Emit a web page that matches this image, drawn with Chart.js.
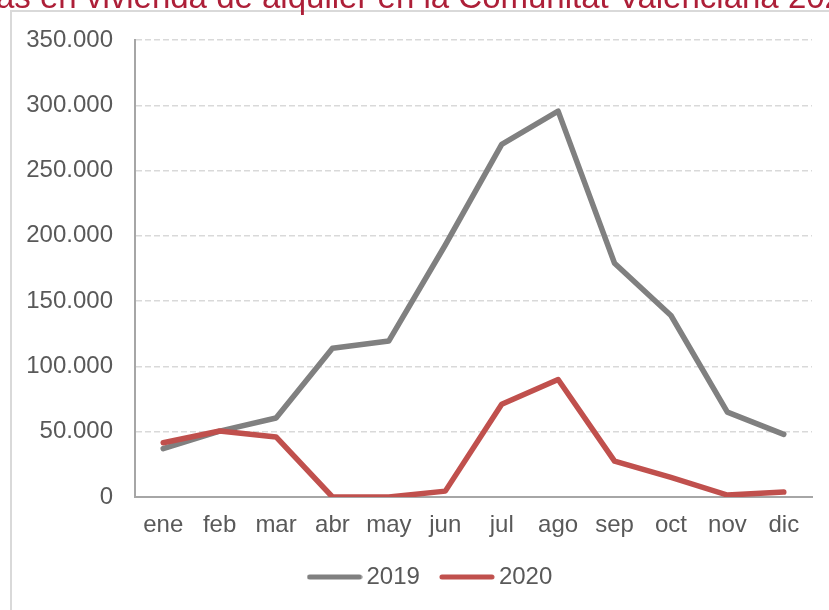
<!DOCTYPE html>
<html>
<head>
<meta charset="utf-8">
<script src="https://cdn.jsdelivr.net/npm/chart.js@4.4.1/dist/chart.umd.min.js"></script>
<style>
  html, body { margin: 0; padding: 0; background: #ffffff; }
  #wrap { width: 829px; height: 610px; position: relative; }
</style>
</head>
<body>
<div id="wrap"><canvas id="c" width="829" height="610"></canvas></div>
<script>
const months = ['ene', 'feb', 'mar', 'abr', 'may', 'jun', 'jul', 'ago', 'sep', 'oct', 'nov', 'dic'];
const seriesNames = ['2019', '2020'];
const values2019 = [37000, 50500, 60500, 114000, 119500, 193000, 270000, 295500, 179000, 139000, 65000, 48000];
const values2020 = [41500, 50500, 46000, 0, 0, 4500, 71000, 90000, 27500, 15000, 1500, 3800];
const yTicks = [0, 50000, 100000, 150000, 200000, 250000, 300000, 350000];
const titleText = 'as en vivienda de alquiler en la Comunitat Valenciana 2020';

const colors = ['#808080', '#C0504D'];
const FONT = '"Liberation Sans", Arial, sans-serif';

function fmt(v) {
  return String(v).replace(/\B(?=(\d{3})+(?!\d))/g, '.');
}

function legendSwatch(color) {
  const c = document.createElement('canvas');
  c.width = 56; c.height = 8;
  const g = c.getContext('2d');
  g.strokeStyle = color;
  g.lineWidth = 5;
  g.lineCap = 'round';
  g.beginPath();
  g.moveTo(3, 4);
  g.lineTo(53, 4);
  g.stroke();
  return c;
}
const swatches = colors.map(legendSwatch);

const frame = {
  id: 'frame',
  afterLayout(chart) {
    if (chart.legend) {
      chart.legend.left += 22.4;
      chart.legend.right += 22.4;
    }
  },
  beforeDraw(chart) {
    const ctx = chart.ctx;
    ctx.save();
    ctx.fillStyle = '#ffffff';
    ctx.fillRect(0, 0, chart.width, chart.height);
    ctx.fillStyle = '#D9D9D9';
    ctx.fillRect(10, 10, chart.width - 10, 2);
    ctx.fillRect(10, 10, 2, chart.height - 10);
    ctx.fillStyle = '#AD1F38';
    ctx.font = '33px ' + FONT;
    ctx.textAlign = 'left';
    ctx.textBaseline = 'alphabetic';
    ctx.fillText(titleText, -4, 7.5);
    ctx.restore();
  }
};

new Chart(document.getElementById('c'), {
  type: 'line',
  data: {
    labels: months,
    datasets: [
      {
        label: seriesNames[0],
        data: values2019,
        borderColor: colors[0],
        backgroundColor: colors[0],
        borderWidth: 5.5,
        borderCapStyle: 'round',
        borderJoinStyle: 'round',
        pointRadius: 0,
        tension: 0,
        order: 1
      },
      {
        label: seriesNames[1],
        data: values2020,
        borderColor: colors[1],
        backgroundColor: colors[1],
        borderWidth: 5.5,
        borderCapStyle: 'round',
        borderJoinStyle: 'round',
        pointRadius: 0,
        tension: 0,
        order: 0
      }
    ]
  },
  options: {
    responsive: false,
    animation: false,
    layout: { padding: { left: 10, right: 17, top: 40, bottom: 12 } },
    plugins: {
      tooltip: { enabled: false },
      title: { display: false },
      legend: {
        display: true,
        position: 'bottom',
        maxHeight: 60,
        labels: {
          usePointStyle: true,
          pointStyleWidth: 40,
          padding: 27,
          color: '#595959',
          font: { family: FONT, size: 24 },
          generateLabels(chart) {
            return chart.data.datasets.map((ds, i) => ({
              text: ds.label,
              fillStyle: ds.borderColor,
              strokeStyle: ds.borderColor,
              lineWidth: 0,
              pointStyle: swatches[i],
              hidden: false,
              datasetIndex: i,
              fontColor: '#595959'
            }));
          }
        }
      }
    },
    scales: {
      x: {
        offset: true,
        grid: { display: false, drawTicks: false },
        border: { display: true, color: '#A6A6A6', width: 2 },
        ticks: {
          color: '#595959',
          font: { family: FONT, size: 24 },
          padding: 14,
          maxRotation: 0,
          autoSkip: false
        },
        afterFit(scale) { scale.height = 41; }
      },
      y: {
        min: 0,
        max: 350000,
        afterBuildTicks(scale) { scale.ticks = yTicks.map(v => ({ value: v })); },
        grid: { color: '#D9D9D9', lineWidth: 1.5, drawTicks: false },
        border: { display: true, color: '#A6A6A6', width: 2, dash: [6, 3] },
        ticks: {
          color: '#595959',
          font: { family: FONT, size: 24 },
          padding: 22,
          callback: (v) => fmt(v)
        },
        afterFit(scale) { scale.width = 125; }
      }
    }
  },
  plugins: [frame]
});
</script>
</body>
</html>
